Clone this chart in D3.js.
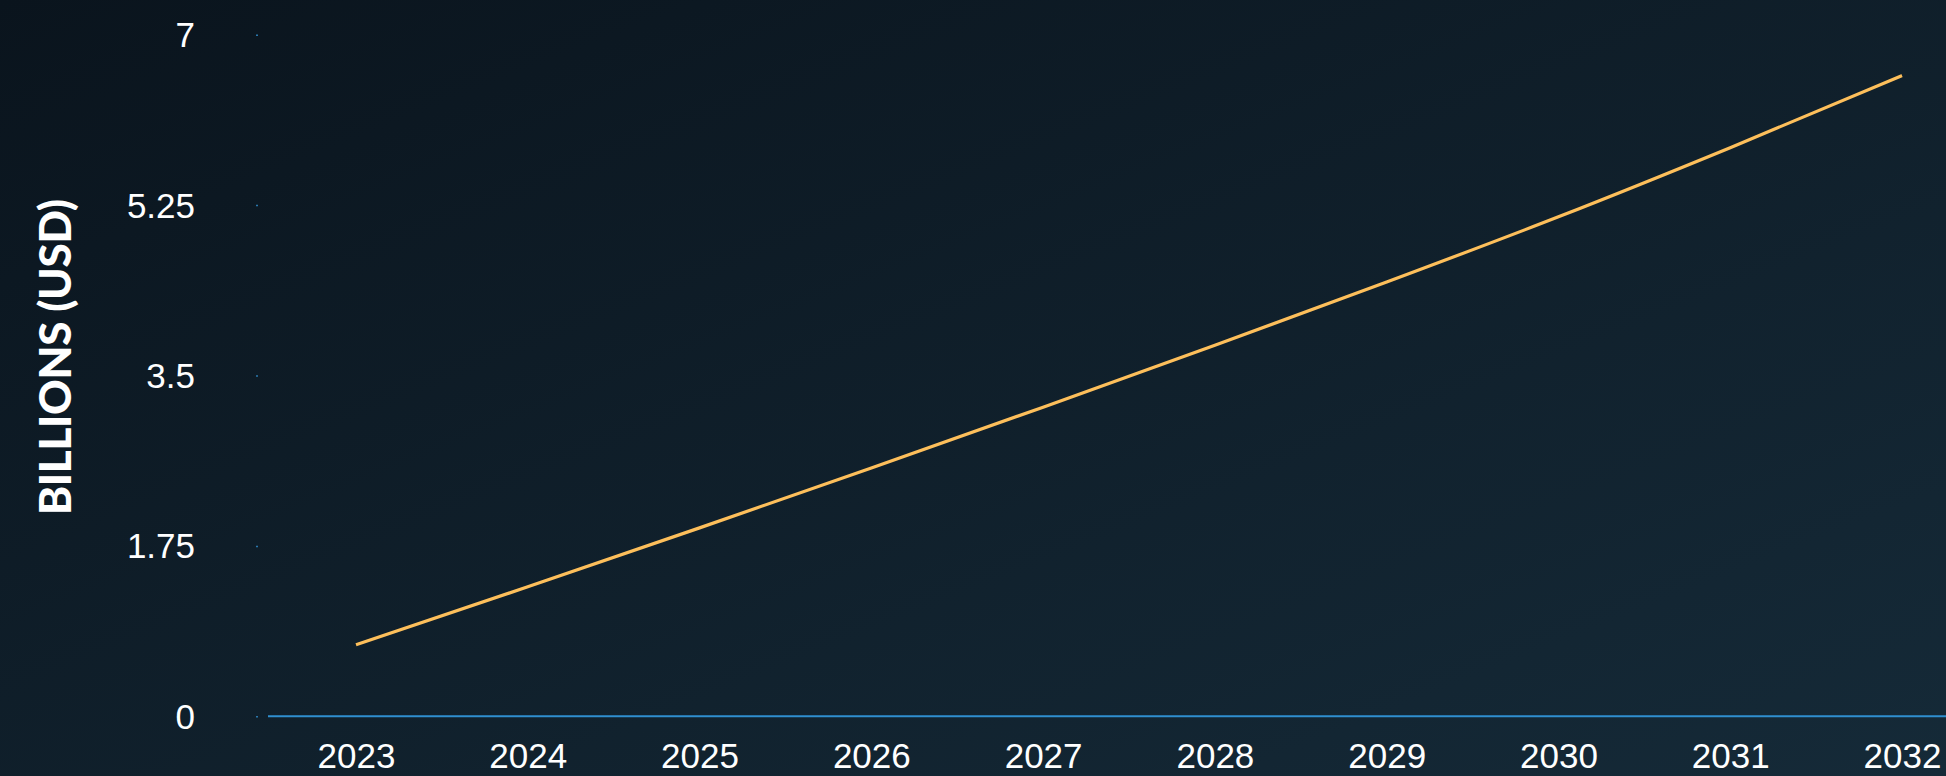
<!DOCTYPE html>
<html>
<head>
<meta charset="utf-8">
<script src="https://cdn.jsdelivr.net/npm/d3@7"></script>
<style>
  html, body { margin: 0; padding: 0; background: #0d1821; }
  svg { display: block; }
</style>
</head>
<body>
<svg id="chart" width="1946" height="776"></svg>
<script>
const years = [2023, 2024, 2025, 2026, 2027, 2028, 2029, 2030, 2031, 2032];
const values = [0.735, 1.33, 1.935, 2.55, 3.175, 3.81, 4.46, 5.13, 5.84, 6.58];
const yTicks = [0, 1.75, 3.5, 5.25, 7];
const yLabel = "BILLIONS (USD)";

const W = 1946, H = 776;
const svg = d3.select("#chart");

const defs = svg.append("defs");
const grad = defs.append("linearGradient")
  .attr("id", "bg").attr("x1", "0%").attr("y1", "0%").attr("x2", "100%").attr("y2", "100%");
grad.append("stop").attr("offset", "0%").attr("stop-color", "#0a141d");
grad.append("stop").attr("offset", "100%").attr("stop-color", "#152a38");
svg.append("rect").attr("width", W).attr("height", H).attr("fill", "url(#bg)");

const x = d3.scaleLinear().domain([2023, 2032]).range([356, 1902]);
const y = d3.scaleLinear().domain([0, 7]).range([716.3, 34.7]);

// y axis (tiny tick marks only)
const yAxis = svg.append("g")
  .attr("transform", "translate(258,0)")
  .call(d3.axisLeft(y).tickValues(yTicks).tickSize(2).tickPadding(61)
        .tickFormat(d => String(d)));
yAxis.select(".domain").remove();
yAxis.selectAll(".tick line").attr("stroke", "#2a78ad").attr("stroke-width", 1.5);
yAxis.selectAll(".tick text")
  .attr("fill", "#ffffff")
  .attr("font-family", "'Liberation Sans', Arial, sans-serif")
  .attr("font-size", 35)
  .attr("dy", "0.34em");

// x axis
const xAxis = svg.append("g")
  .attr("transform", `translate(0,${y(0)})`)
  .call(d3.axisBottom(x).tickValues(years).tickSize(0).tickPadding(27)
        .tickFormat(d3.format("d")));
xAxis.select(".domain").remove();
xAxis.selectAll(".tick text")
  .attr("fill", "#ffffff")
  .attr("font-family", "'Liberation Sans', Arial, sans-serif")
  .attr("font-size", 35);

// baseline
svg.append("line")
  .attr("x1", 268).attr("x2", W)
  .attr("y1", y(0)).attr("y2", y(0))
  .attr("stroke", "#2f8fd0").attr("stroke-width", 2);

// data line
const line = d3.line()
  .x((d, i) => x(years[i]))
  .y(d => y(d))
  .curve(d3.curveMonotoneX);
svg.append("path")
  .datum(values)
  .attr("d", line)
  .attr("fill", "none")
  .attr("stroke", "#fdbf5b")
  .attr("stroke-width", 3.2);

// y axis title
svg.append("text")
  .attr("transform", "translate(71,357) rotate(-90)")
  .attr("text-anchor", "middle")
  .attr("fill", "#ffffff")
  .attr("font-family", "Lato, 'Noto Sans', sans-serif")
  .attr("font-weight", 900)
  .attr("font-size", 44)
  .attr("textLength", 316)
  .attr("lengthAdjust", "spacing")
  .text(yLabel);
</script>
</body>
</html>
